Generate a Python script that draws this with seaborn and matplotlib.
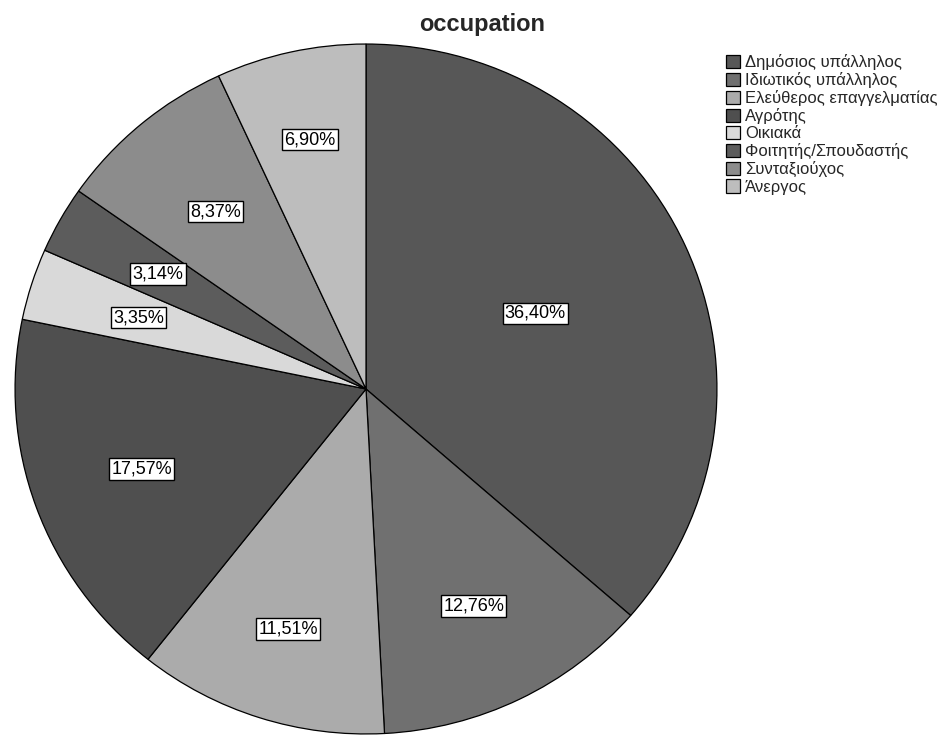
import matplotlib
matplotlib.use("Agg")
import matplotlib.pyplot as plt
import seaborn as sns
import numpy as np

# data
occupations = [
    "Δημόσιος υπάλληλος",
    "Ιδιωτικός υπάλληλος",
    "Ελεύθερος επαγγελματίας",
    "Αγρότης",
    "Οικιακά",
    "Φοιτητής/Σπουδαστής",
    "Συνταξιούχος",
    "Άνεργος",
]
percentages = [36.40, 12.76, 11.51, 17.57, 3.35, 3.14, 8.37, 6.90]

# grey shades per slice and where each label sits (fraction of radius)
greys = ["#575757", "#707070", "#ababab", "#4f4f4f", "#d9d9d9", "#5c5c5c", "#8c8c8c", "#bdbdbd"]
label_dist = [0.53, 0.70, 0.73, 0.68, 0.68, 0.68, 0.67, 0.74]

sns.set_theme(style="white")
plt.rcParams["font.family"] = ["Liberation Sans", "DejaVu Sans"]

fig = plt.figure(figsize=(9.39, 7.36), dpi=100)
# pie spans x 14..718 px, y 43..735 px (slightly wider than tall, like the scan)
ax = fig.add_axes([14 / 939, 1 - 735 / 736, 704 / 939, 692 / 736])

wedges, _ = ax.pie(
    percentages,
    colors=greys,
    startangle=90,
    counterclock=False,
    wedgeprops=dict(edgecolor="black", linewidth=0.9),
)
ax.set_xlim(-1.003, 1.003)
ax.set_ylim(-1.003, 1.003)
ax.set_aspect("auto")
ax.axis("off")

for w, pct, d in zip(wedges, percentages, label_dist):
    mid = np.deg2rad((w.theta1 + w.theta2) / 2)
    txt = f"{pct:.2f}%".replace(".", ",")
    ax.text(d * np.cos(mid), d * np.sin(mid), txt, ha="center", va="center",
            fontsize=13, color="black",
            bbox=dict(boxstyle="square,pad=0.12", facecolor="white",
                      edgecolor="black", linewidth=1.0))

fig.text(482 / 939, 1 - 25 / 736, "occupation", ha="center", va="center",
         fontsize=17, fontweight="bold")

fig.legend(wedges, occupations, loc="upper left",
           bbox_to_anchor=(726 / 939, 1 - 54 / 736),
           frameon=False, fontsize=12, handlelength=0.85, handleheight=0.85,
           handletextpad=0.3, labelspacing=0.12, borderaxespad=0, borderpad=0)

fig.savefig("out.png", dpi=100)
